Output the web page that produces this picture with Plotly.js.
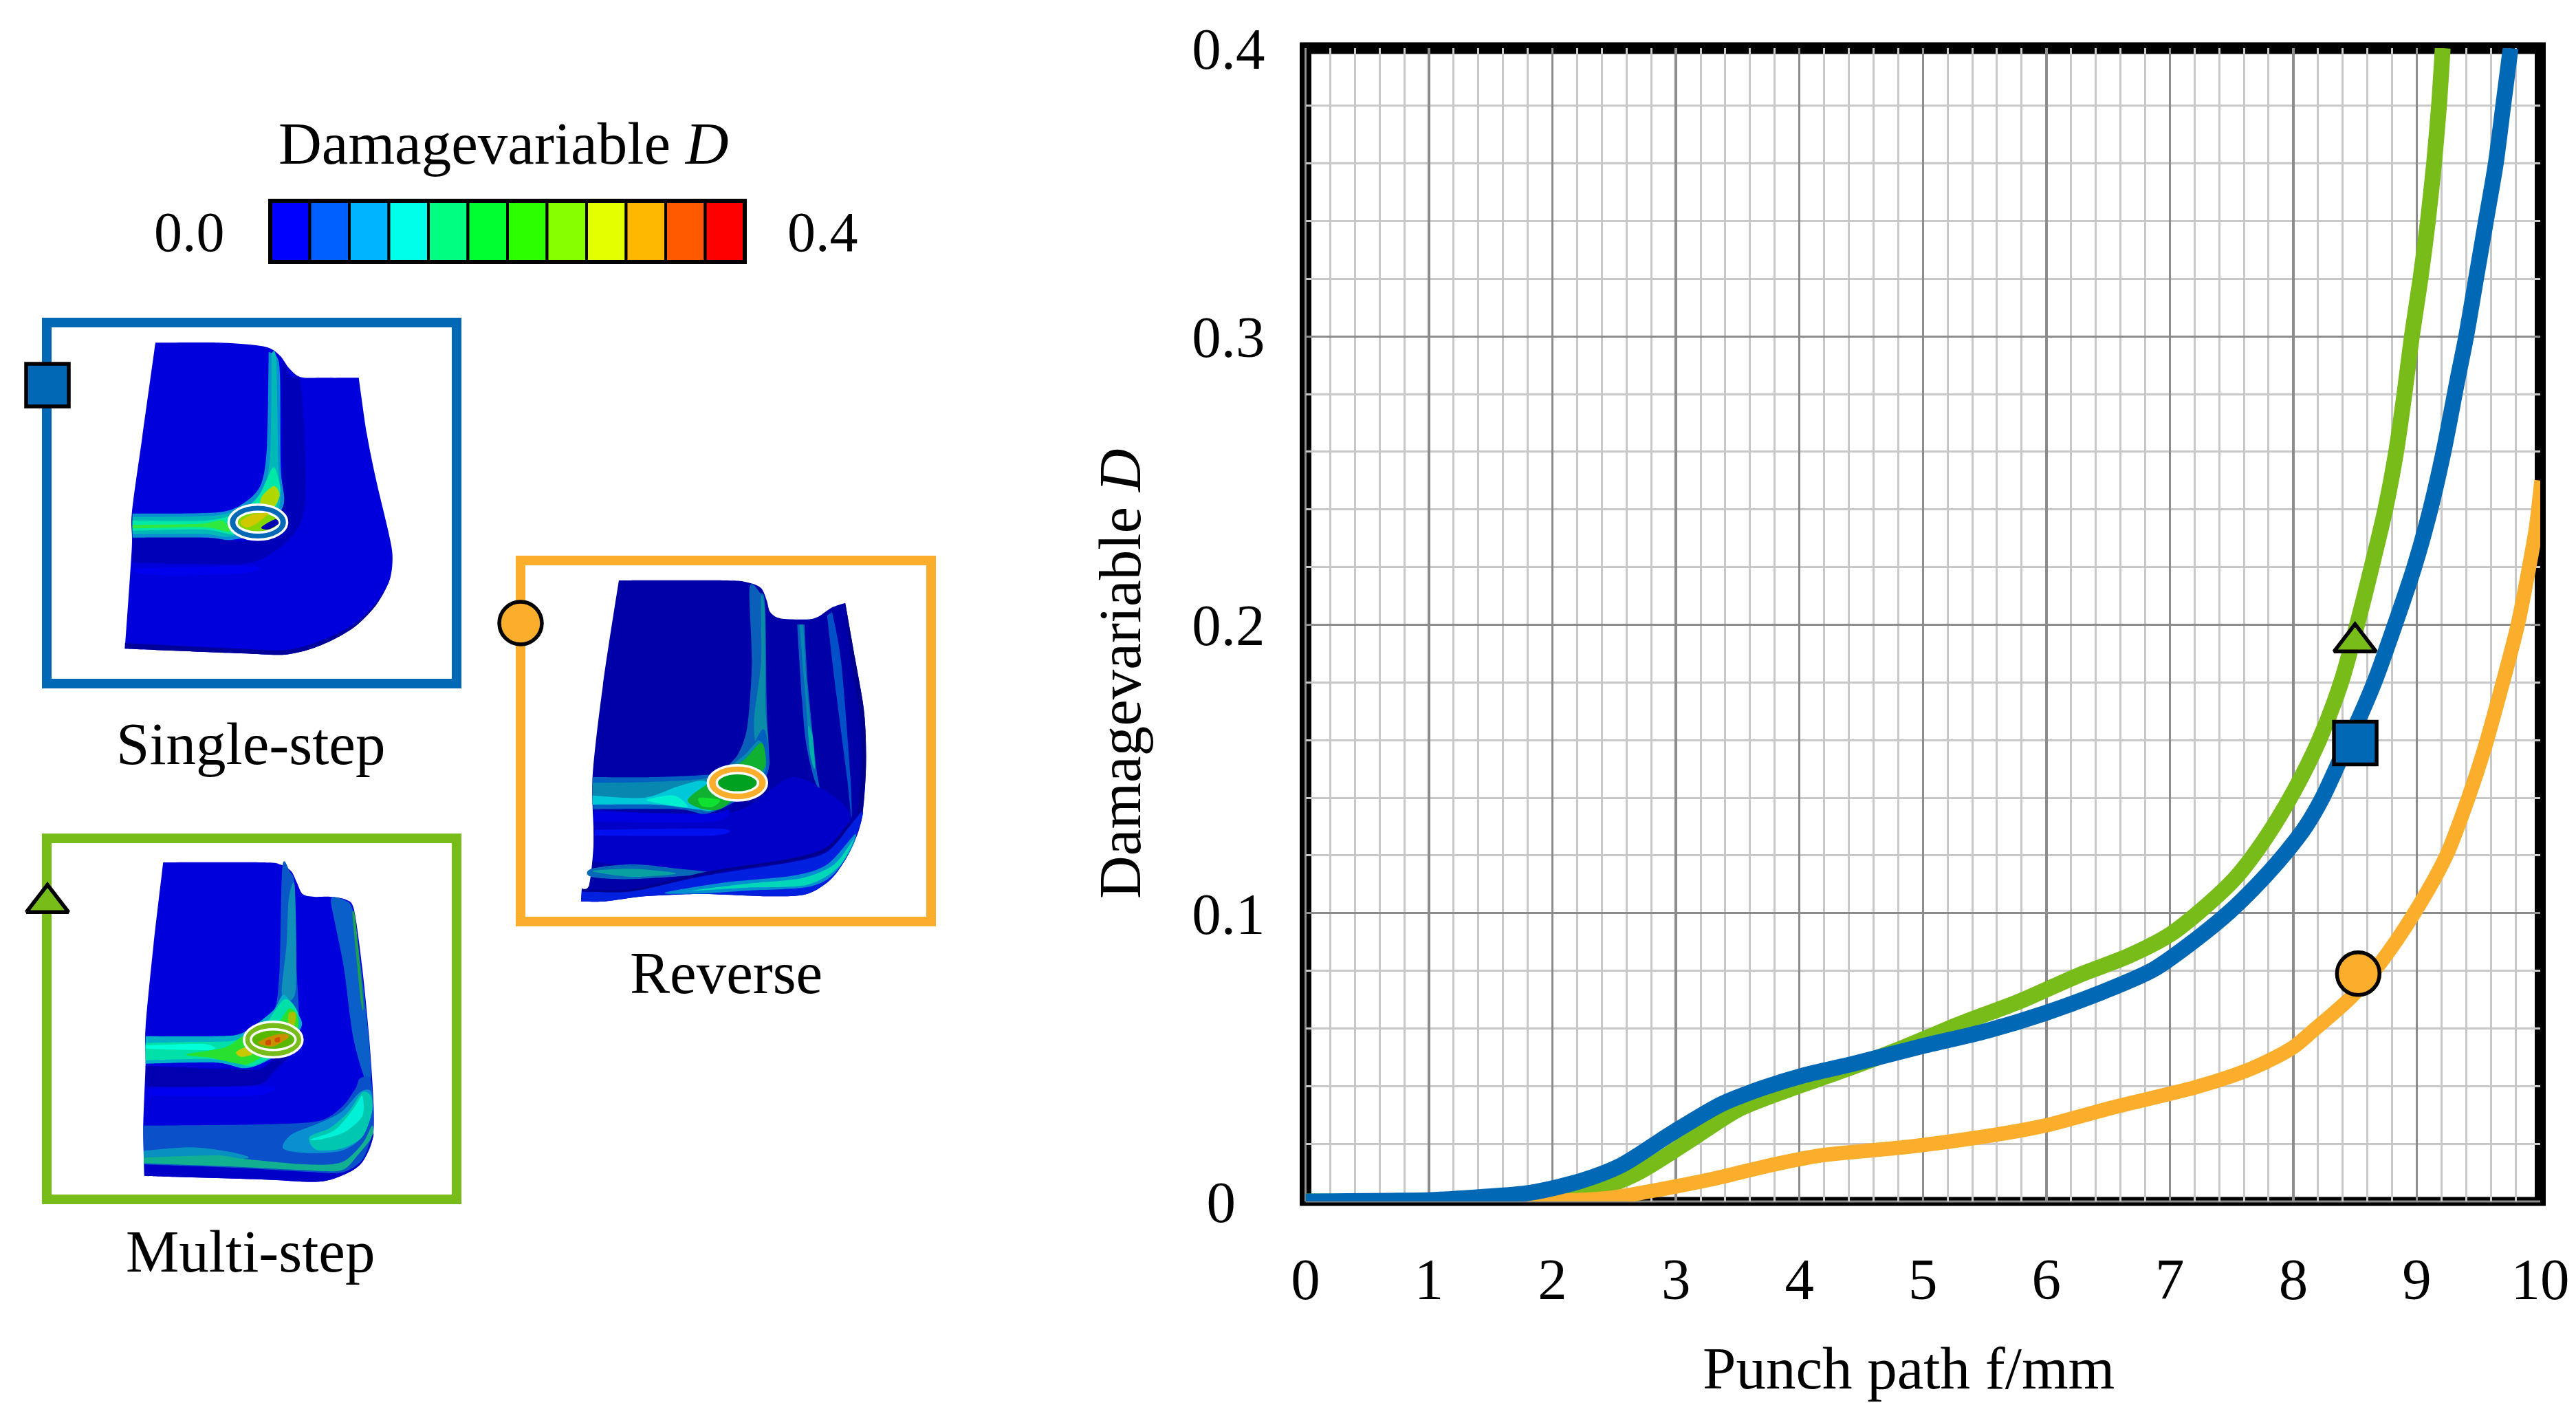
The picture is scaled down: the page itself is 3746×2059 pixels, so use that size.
<!DOCTYPE html>
<html><head><meta charset="utf-8">
<script src="https://cdn.plot.ly/plotly-3.0.1.min.js"></script>
<style>html,body{margin:0;padding:0;background:#fff}#c{width:3746px;height:2059px}</style></head>
<body><div id="c"></div>
<script>
// ---- data ----
var singleX=[0,1.01,1.41,1.82,2.22,2.56,2.96,3.37,3.7,4.04,4.44,4.98,5.52,5.99,6.47,6.87,7.2,7.485,7.7,7.93,8.1,8.23,8.377,8.563,8.665,8.823,8.98,9.11,9.217,9.33,9.4,9.48,9.56,9.64,9.7,9.76];
var singleY=[0,0.0005,0.0015,0.003,0.007,0.0126,0.0235,0.0338,0.0393,0.0438,0.0478,0.0537,0.0592,0.0653,0.0729,0.0805,0.0905,0.1005,0.1095,0.1205,0.13,0.1395,0.153,0.1705,0.181,0.2,0.22,0.24,0.26,0.285,0.3,0.32,0.34,0.36,0.38,0.4];
var multiX=[0,1.5,2,2.29,2.69,3.1,3.5,3.9,4.31,4.78,5.32,5.79,6.26,6.67,7,7.27,7.54,7.78,8.01,8.21,8.387,8.554,8.634,8.745,8.833,8.9,8.96,9.03,9.09,9.14,9.18,9.21];
var multiY=[0,0,0.001,0.003,0.0099,0.0208,0.0318,0.0386,0.0448,0.0523,0.0619,0.0695,0.0784,0.0852,0.0925,0.1016,0.1126,0.1263,0.1427,0.16,0.18,0.2062,0.22,0.24,0.26,0.28,0.3,0.32,0.34,0.36,0.38,0.4];
var reverseX=[1.75,2.42,2.9,3.3,3.77,4.18,4.85,5.45,5.99,6.53,7.2,7.5,7.71,8,8.154,8.47,8.71,8.98,9.24,9.418,9.548,9.697,9.818,9.91,9.967,10.01];
var reverseY=[0,0.001,0.0044,0.0078,0.0126,0.016,0.0188,0.0222,0.0263,0.0325,0.0395,0.0435,0.047,0.0535,0.059,0.0709,0.083,0.1,0.12,0.14,0.157,0.18,0.2,0.22,0.234,0.25];
var pointX=[8.502,8.5,8.526];
var pointY=[0.159,0.1939,0.079];
var xTicks=[0,1,2,3,4,5,6,7,8,9,10];
var yTicks=[0,0.1,0.2,0.3,0.4];
var yTickLabels=['0\u00a0\u00a0','0.1','0.2','0.3','0.4'];
var methodLabels=['Single-step','Multi-step','Reverse'];
var scaleColors=['#0000ff','#0060ff','#00b4ff','#00ffea','#00ff80','#00ff30','#2cff00','#88ff00','#e4ff00','#ffb800','#ff5a00','#ff0000'];
var xTitle='Punch path f/mm';
var yTitle='Damagevariable <i>D</i>';

// ---- styles and layout ----
var W=3746,H=2059,L=1898.5,R=3694,T=70,B=1747;
var BLUE='#0068b4',GREEN='#78bc1a',ORANGE='#fbae2c';
var FONT='"Liberation Serif",serif',FS=87,TICKFS=85;

var shapes=[];
function origin(ox,oy){return function(p){return [ox+p[0]/3,oy+p[1]/3];};}
var ZA=origin(150,480),ZB=origin(820,830),ZC=origin(180,1240);
function same(a,b){return a[0]===b[0]&&a[1]===b[1];}
// closed smooth outline through the points; a repeated point gives a sharp corner
function poly(pts,col,Z){
  var q=pts.map(Z),n=q.length,d='M'+q[0][0].toFixed(1)+','+q[0][1].toFixed(1),k=1/7;
  for(var i=0;i<n;i++){
    var p0=q[(i-1+n)%n],a=q[i],b=q[(i+1)%n],p3=q[(i+2)%n];
    if(same(a,b)) continue;
    var c1=same(p0,a)?a:[a[0]+(b[0]-p0[0])*k,a[1]+(b[1]-p0[1])*k];
    var c2=same(p3,b)?b:[b[0]-(p3[0]-a[0])*k,b[1]-(p3[1]-a[1])*k];
    d+='C'+c1[0].toFixed(1)+','+c1[1].toFixed(1)+' '+c2[0].toFixed(1)+','+c2[1].toFixed(1)+' '+b[0].toFixed(1)+','+b[1].toFixed(1);
  }
  shapes.push({type:'path',xref:'x2',yref:'y2',layer:'below',path:d+'Z',fillcolor:col,line:{width:0}});
}
function box(x0,y0,x1,y1,col,w,fill){
  shapes.push({type:'rect',xref:'x2',yref:'y2',layer:'below',x0:x0,y0:y0,x1:x1,y1:y1,line:{color:col,width:w},fillcolor:fill||'rgba(0,0,0,0)'});
}
function ell(cx,cy,rx,ry,col,lw,fill){
  shapes.push({type:'circle',xref:'x2',yref:'y2',layer:'below',x0:cx-rx,x1:cx+rx,y0:cy-ry,y1:cy+ry,line:{color:col,width:lw},fillcolor:fill});
}
function ring(Z,zx,zy,rx,ry,irx,iry,col,inner){
  var c=Z([zx,zy]);
  ell(c[0],c[1],rx,ry,'#ffffff',3.5,col);
  ell(c[0],c[1],irx,iry,'#ffffff',3.5,inner);
}
function frameLine(x0,y0,x1,y1,col,w){
  shapes.push({type:'line',xref:'paper',yref:'paper',layer:'below',x0:x0/W,x1:x1/W,y0:1-y0/H,y1:1-y1/H,line:{color:col,width:w}});
}
// chart frame
frameLine(L-8,T,R+8,T,'#000',17);
frameLine(R,T-8,R,B+6,'#000',16);
frameLine(L,T-8,L,B+6,'#000',17);
frameLine(L-8,B,R+8,B,'#000',13);
frameLine(L,T,L,B,'#8c8c8c',3);
frameLine(L,B,R,B,'#8c8c8c',3);

// panel frames
box(68,469,664,994,BLUE,14);
box(757,815,1354,1340,ORANGE,14);
box(68,1219,664,1744,GREEN,14);

// colour scale
scaleColors.forEach(function(c,i){
  var w=(1083-393)/scaleColors.length;
  box(393+i*w,292,393+(i+1)*w,381,'#000',4,c);
});
box(393,292,1083,381,'#000',6);

// ---- single-step part ----
poly([[228,55],[228,55],[500,55],[660,65],[730,80],[775,115],[810,165],[860,205],[950,208],[1115,208],[1115,208],[1150,450],[1190,650],[1240,860],[1262,980],[1250,1090],[1190,1200],[1090,1300],[950,1375],[800,1415],[600,1410],[95,1390],[95,1390],[125,950],[125,800],[170,470]],'#0000dc',ZA);
poly([[95,1365],[95,1365],[600,1390],[800,1395],[950,1355],[1090,1285],[1190,1190],[1245,1095],[1245,1095],[1190,1200],[1090,1300],[950,1375],[800,1415],[600,1410],[95,1390],[95,1390]],'#00009a',ZA);
poly([[130,900],[130,900],[460,900],[580,920],[720,905],[780,780],[782,170],[815,205],[860,225],[880,500],[880,760],[840,880],[740,970],[600,1020],[130,1015],[130,1015]],'#0000b8',ZA);
poly([[140,1040],[140,1040],[650,1030],[620,1060],[300,1070],[140,1060],[140,1060]],'#0000f0',ZA);
poly([[128,800],[128,800],[500,795],[620,750],[690,670],[715,500],[722,95],[722,95],[760,120],[772,210],[775,600],[790,730],[775,790],[700,880],[560,915],[450,905],[128,905],[128,905]],'#0890d0',ZA);
poly([[128,815],[128,815],[480,810],[620,770],[700,700],[730,520],[735,105],[735,105],[755,130],[765,600],[775,720],[740,830],[560,900],[440,890],[128,890],[128,890]],'#00b8b8',ZA);
poly([[128,830],[128,830],[460,830],[600,790],[680,720],[740,600],[765,650],[770,720],[720,830],[580,890],[440,870],[128,875],[128,875]],'#00e8a8',ZA);
poly([[128,850],[128,850],[420,845],[520,830],[550,880],[440,860],[128,865],[128,865]],'#30e840',ZA);
poly([[690,730],[745,680],[770,720],[740,780],[690,790]],'#b0d800',ZA);
ring(ZA,675,838,42.5,25.5,31,15,BLUE,'#80d800');
poly([[600,835],[650,805],[720,800],[660,850],[620,860]],'#d0c800',ZA);
poly([[690,860],[750,825],[765,845],[720,870]],'#0000b0',ZA);

// ---- reverse part ----
poly([[240,42],[240,42],[700,42],[800,50],[860,75],[885,130],[900,180],[945,208],[1060,212],[1110,200],[1170,160],[1228,140],[1228,140],[1270,380],[1310,620],[1318,850],[1300,1080],[1250,1220],[1170,1340],[1060,1410],[900,1420],[600,1410],[350,1420],[180,1442],[75,1442],[75,1442],[78,1385],[78,1385],[110,1370],[130,1180],[125,900],[170,500]],'#0000a8',ZB);
poly([[130,1040],[130,1040],[600,1070],[800,1030],[1000,900],[1200,1000],[1250,1090],[1180,1200],[1000,1260],[640,1320],[130,1270],[130,1270]],'#0000c8',ZB);
poly([[130,1050],[130,1050],[620,1060],[720,1040],[650,1095],[130,1095],[130,1095]],'#0000e0',ZB);
poly([[135,1130],[135,1130],[680,1125],[650,1155],[135,1155],[135,1155]],'#0010f0',ZB);
poly([[810,75],[855,95],[878,150],[885,600],[895,800],[880,860],[700,880],[760,800],[800,680],[820,400]],'#0a60b8',ZB);
poly([[860,120],[876,180],[880,600],[890,760],[840,760],[830,640],[860,400]],'#0a8ca8',ZB);
poly([[125,900],[125,900],[400,900],[620,890],[700,880],[800,800],[870,690],[895,800],[880,900],[760,1000],[620,1060],[500,1040],[128,1040],[128,1040]],'#0060c0',ZB);
poly([[125,925],[125,925],[400,920],[640,900],[780,810],[850,740],[880,800],[860,900],[650,1040],[580,1040],[400,1020],[125,1020],[125,1020]],'#0888b0',ZB);
poly([[125,980],[125,980],[350,990],[500,940],[620,920],[650,1040],[580,1040],[400,1020],[125,1020],[125,1020]],'#00c8d8',ZB);
poly([[360,1000],[480,980],[540,1030],[450,1020]],'#00f0d0',ZB);
poly([[540,1000],[640,920],[780,830],[860,750],[880,820],[860,880],[700,1030],[610,1040]],'#10b030',ZB);
poly([[590,990],[680,1000],[650,1030],[600,1025]],'#10e030',ZB);
poly([[1018,235],[1018,235],[1050,235],[1050,235],[1065,500],[1100,850],[1115,945],[1090,900],[1050,700]],'#0860c0',ZB);
poly([[1028,235],[1028,235],[1045,235],[1045,235],[1060,500],[1095,850],[1075,800],[1050,500]],'#0888b0',ZB);
poly([[1065,680],[1085,720],[1095,860],[1075,800]],'#00b0a8',ZB);
poly([[1148,195],[1148,195],[1170,180],[1170,180],[1210,400],[1250,900],[1255,1080],[1235,900],[1190,550]],'#0050c8',ZB);
poly([[1228,145],[1228,145],[1270,380],[1310,620],[1318,850],[1300,1080],[1280,1090],[1298,850],[1290,620],[1250,380]],'#000090',ZB);
poly([[78,1400],[78,1400],[300,1395],[620,1330],[1000,1270],[1150,1225],[1250,1110],[1300,1050],[1300,1080],[1250,1220],[1170,1340],[1060,1410],[900,1420],[600,1410],[350,1420],[180,1442],[75,1442],[75,1442]],'#0020e0',ZB);
poly([[440,1405],[700,1360],[1000,1330],[1150,1280],[1270,1150],[1250,1220],[1170,1330],[1060,1380],[800,1395],[600,1408]],'#0090d0',ZB);
poly([[560,1395],[800,1365],[1040,1340],[1180,1280],[1265,1170],[1200,1290],[1060,1370],[800,1382]],'#00d8b8',ZB);
poly([[120,1300],[300,1280],[500,1300],[640,1320],[300,1345],[120,1335]],'#0868b8',ZB);
poly([[125,1310],[300,1300],[490,1320],[300,1335]],'#08a0a0',ZB);
poly([[78,1388],[78,1388],[300,1388],[620,1313],[1000,1253],[1150,1203],[1240,1103],[1248,1110],[1155,1216],[1000,1266],[620,1326],[300,1398],[78,1398],[78,1398]],'#00008c',ZB);
ring(ZB,757,925,43,25.7,30,14,ORANGE,'#00a020');

// ---- multi-step part ----
poly([[172,42],[172,42],[600,42],[680,50],[730,80],[755,130],[780,180],[830,192],[900,192],[970,205],[1005,250],[1040,500],[1070,800],[1090,1100],[1085,1250],[1040,1350],[970,1400],[850,1435],[600,1425],[90,1410],[90,1410],[85,1200],[95,920],[95,760],[130,400]],'#0000dc',ZC);
poly([[95,930],[95,930],[500,945],[620,930],[760,770],[770,760],[750,850],[650,960],[560,1015],[100,1020],[100,1020]],'#0000b0',ZC);
poly([[110,1030],[110,1030],[640,1020],[560,1060],[110,1060],[110,1060]],'#0000f0',ZC);
poly([[692,60],[725,85],[745,135],[748,400],[765,740],[740,800],[660,810],[530,790],[600,760],[660,680],[680,500]],'#0a58c8',ZC);
poly([[720,200],[746,150],[750,600],[690,620],[710,400]],'#1090b8',ZC);
poly([[95,800],[95,800],[400,800],[520,785],[650,690],[700,620],[770,720],[770,770],[700,860],[600,920],[520,940],[400,915],[95,920],[95,920]],'#00b0c8',ZC);
poly([[95,830],[95,830],[300,825],[480,820],[600,770],[700,640],[760,700],[740,800],[660,880],[560,930],[500,920],[380,900],[95,905],[95,905]],'#00e0a8',ZC);
poly([[95,840],[95,840],[350,835],[380,860],[95,855],[95,855]],'#00ffd8',ZC);
poly([[270,880],[440,850],[520,800],[560,820],[650,780],[720,680],[760,720],[740,800],[560,915],[500,920],[380,895]],'#28e030',ZC);
poly([[490,870],[530,850],[560,880],[510,890]],'#c8c800',ZC);
poly([[720,700],[750,700],[745,750],[720,750]],'#a8c000',ZC);
poly([[905,198],[965,208],[1000,255],[1035,500],[1068,800],[1078,980],[1050,980],[1000,800],[960,500],[920,300]],'#0a60c8',ZC);
poly([[1000,255],[1012,300],[1045,650],[1035,650],[1000,300]],'#20a050',ZC);
poly([[85,1190],[85,1190],[600,1185],[850,1170],[950,1110],[1010,1030],[1030,985],[1075,985],[1088,1100],[1083,1250],[1040,1348],[970,1398],[850,1433],[600,1423],[90,1408],[90,1408]],'#0a50c8',ZC);
poly([[695,1290],[730,1230],[850,1180],[950,1130],[1030,1045],[1078,1040],[1083,1130],[1040,1240],[950,1300],[800,1310]],'#0a90d0',ZC);
poly([[810,1240],[900,1200],[980,1130],[1040,1045],[1078,1060],[1083,1130],[1040,1240],[950,1290],[840,1295]],'#00c8b0',ZC);
poly([[815,1250],[920,1210],[1000,1120],[1040,1060],[1040,1150],[960,1220],[860,1250]],'#00f0d8',ZC);
poly([[87,1300],[87,1300],[300,1285],[490,1310],[520,1335],[87,1330],[87,1330]],'#0890c0',ZC);
poly([[87,1330],[87,1330],[400,1320],[520,1335],[800,1360],[950,1350],[1040,1270],[1083,1190],[1083,1240],[1020,1320],[950,1385],[800,1385],[500,1370],[87,1355],[87,1355]],'#10b090',ZC);
poly([[90,1360],[90,1360],[500,1375],[800,1392],[950,1395],[1040,1340],[1085,1230],[1085,1250],[1040,1350],[970,1400],[850,1435],[600,1425],[90,1410],[90,1410]],'#0000c8',ZC);
ring(ZC,652,815,42.5,25.8,32.5,15,GREEN,'#58b800');
poly([[585,830],[640,800],[700,790],[720,805],[650,845]],'#c89000',ZC);
poly([[620,820],[640,815],[640,838],[620,838]],'#d05000',ZC);
poly([[660,810],[680,805],[680,825],[660,825]],'#d05000',ZC);

function lbl(t,x,y,size,angle){return {text:t,xref:'x2',yref:'y2',x:x,y:y,xanchor:'center',yanchor:'middle',textangle:angle||0,showarrow:false,font:{family:FONT,size:size||FS,color:'#000'}};}
var annotations=[
  lbl('Damagevariable <i>D</i>',732,208),
  lbl('0.0',275,337,82),
  lbl('0.4',1196,337,82),
  lbl(methodLabels[0],364,1081),
  lbl(methodLabels[1],364,1819),
  lbl(methodLabels[2],1056,1414),
  lbl(xTitle,2775,1989),
  lbl(yTitle,1628,980,FS,-90)
];

function curve(x,y,c,n,w){return {type:'scatter',mode:'lines',x:x,y:y,name:n,line:{color:c,width:w,shape:'spline',smoothing:0.8},hoverinfo:'skip'};}
function pts(xs,ys,xa,ya){
  return {type:'scatter',mode:'markers',x:xs,y:ys,xaxis:xa,yaxis:ya,hoverinfo:'skip',
    marker:{symbol:['square','triangle-up','circle'],size:[62,53,62],opacity:1,color:[BLUE,GREEN,ORANGE],line:{color:'#000',width:5.5}}};
}
var traces=[
  curve(multiX,multiY,GREEN,methodLabels[1],23),
  curve(reverseX,reverseY,ORANGE,methodLabels[2],21),
  curve(singleX,singleY,BLUE,methodLabels[0],23),
  pts(pointX,pointY,'x','y'),
  pts([69,69,757],[560,1313,906],'x2','y2')
];

var layout={
  width:W,height:H,showlegend:false,paper_bgcolor:'#fff',plot_bgcolor:'rgba(0,0,0,0)',
  margin:{l:0,r:0,t:0,b:0},
  font:{family:FONT,size:TICKFS,color:'#000'},
  xaxis:{domain:[L/W,R/W],range:[0,10],anchor:'y',tickmode:'array',tickvals:xTicks,ticks:'',showline:false,zeroline:false,
    showgrid:true,gridcolor:'#8c8c8c',gridwidth:3.5,ticklabelstandoff:56,
    minor:{dtick:0.2,tick0:0,showgrid:true,gridcolor:'#c8c8c8',gridwidth:3,ticks:''}},
  yaxis:{domain:[1-B/H,1-T/H],range:[0,0.4],anchor:'x',tickmode:'array',tickvals:yTicks,ticktext:yTickLabels,ticks:'',showline:false,zeroline:false,
    showgrid:true,gridcolor:'#8c8c8c',gridwidth:3,ticklabelstandoff:58,
    minor:{dtick:0.02,tick0:0,showgrid:true,gridcolor:'#c8c8c8',gridwidth:3,ticks:''}},
  xaxis2:{domain:[0,1],range:[0,W],anchor:'y2',visible:false,fixedrange:true},
  yaxis2:{domain:[0,1],range:[H,0],anchor:'x2',visible:false,fixedrange:true},
  shapes:shapes,annotations:annotations
};
Plotly.newPlot('c',traces,layout,{displayModeBar:false,staticPlot:true});
</script></body></html>
